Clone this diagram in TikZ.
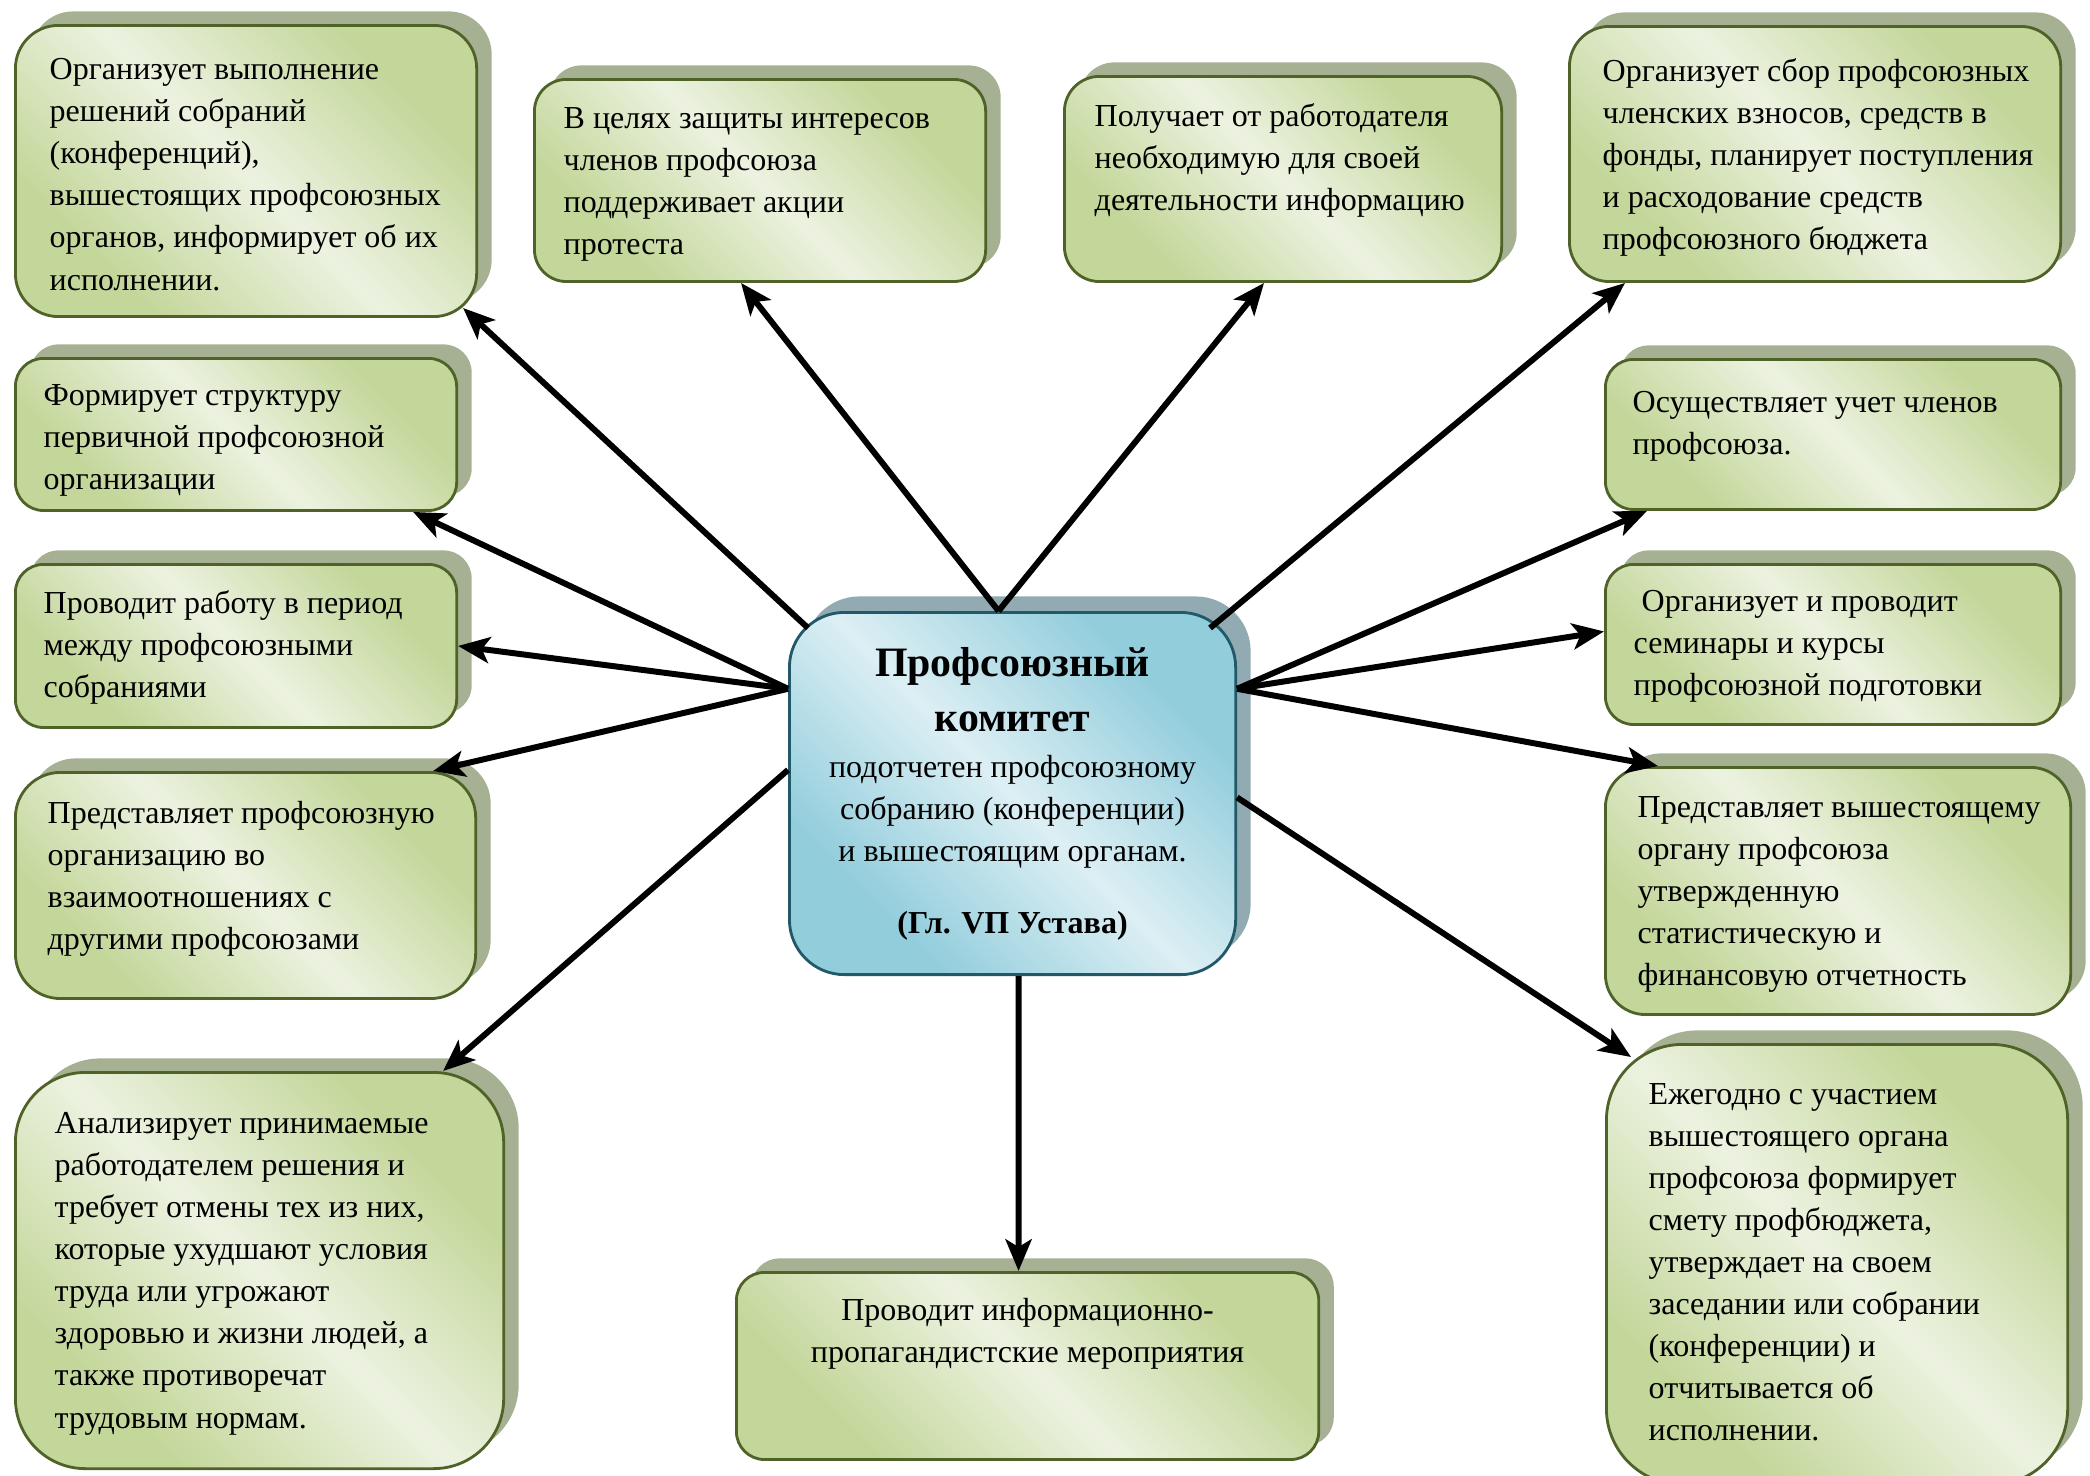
\documentclass[tikz,border=0pt]{standalone}
\usepackage{fontspec}
\setmainfont{Liberation Serif}
\usetikzlibrary{arrows.meta,shadows}
\definecolor{gdark}{RGB}{196,215,155}
\definecolor{glight}{RGB}{236,242,224}
\definecolor{gborder}{RGB}{79,98,40}
\definecolor{gshadow}{RGB}{166,176,146}
\definecolor{bdark}{RGB}{146,205,220}
\definecolor{blight}{RGB}{220,239,244}
\definecolor{bborder}{RGB}{33,89,104}
\definecolor{bshadow}{RGB}{146,170,178}
\pgfdeclarehorizontalshading{cardgreen}{100bp}{color(0bp)=(gdark); color(28bp)=(gdark); color(50bp)=(glight); color(72bp)=(gdark); color(100bp)=(gdark)}
\pgfdeclarehorizontalshading{cardblue}{100bp}{color(0bp)=(bdark); color(28bp)=(bdark); color(50bp)=(blight); color(72bp)=(bdark); color(100bp)=(bdark)}
\newcommand\cardfont{\fontsize{9.1}{11.95}\selectfont}
\newcommand\headfont{\fontsize{11.9}{15.6}\selectfont\bfseries}

\begin{document}
\begin{tikzpicture}[x=0.01cm,y=-0.01cm,>={Stealth[length=9pt,width=7.4pt,inset=2.2pt]}]
    \tikzstyle{box}=[line width=0.8pt,shading angle=45,anchor=north west,inner sep=0pt]
    \tikzstyle{card}=[box,draw=gborder,shading=cardgreen,
        drop shadow={shadow xshift=0.15cm,shadow yshift=0.14cm,fill=gshadow,opacity=1}]
    \tikzstyle{hub}=[box,draw=bborder,shading=cardblue,align=flush center,text width=4.3cm,
        drop shadow={shadow xshift=0.15cm,shadow yshift=0.16cm,fill=bshadow,opacity=1}]
    \tikzstyle{txt}=[anchor=north west,inner sep=0pt,align=left,font=\cardfont]
    \tikzstyle{link}=[->,line width=1.7pt]

    \useasboundingbox (0,0) rectangle (2090,1475);

    % boxes
    \node[card,minimum width=4.61cm,minimum height=2.91cm,rounded corners=0.43cm] (decisions) at (14,24) {};
    \node[card,minimum width=4.51cm,minimum height=2.02cm,rounded corners=0.32cm] (protest) at (533,78) {};
    \node[card,minimum width=4.37cm,minimum height=2.05cm,rounded corners=0.35cm] (info) at (1063,75) {};
    \node[card,minimum width=4.91cm,minimum height=2.55cm,rounded corners=0.4cm] (dues) at (1568,25) {};
    \node[card,minimum width=4.41cm,minimum height=1.52cm,rounded corners=0.28cm] (structure) at (14,357) {};
    \node[card,minimum width=4.41cm,minimum height=1.63cm,rounded corners=0.28cm] (interim) at (14,563) {};
    \node[card,minimum width=4.60cm,minimum height=2.26cm,rounded corners=0.45cm] (relations) at (14,771) {};
    \node[card,minimum width=4.88cm,minimum height=3.96cm,rounded corners=0.7cm] (analysis) at (14,1071) {};
    \node[card,minimum width=5.82cm,minimum height=1.87cm,rounded corners=0.28cm] (propaganda) at (735,1271) {};
    \node[card,minimum width=4.55cm,minimum height=1.50cm,rounded corners=0.28cm] (register) at (1604,358) {};
    \node[card,minimum width=4.55cm,minimum height=1.60cm,rounded corners=0.28cm] (seminars) at (1604,563) {};
    \node[card,minimum width=4.65cm,minimum height=2.47cm,rounded corners=0.4cm] (reporting) at (1604,766) {};
    \node[card,minimum width=4.61cm,minimum height=4.40cm,rounded corners=0.76cm] (budget) at (1605,1043) {};

    \node[hub,minimum width=4.46cm,minimum height=3.62cm,rounded corners=0.55cm] (committee) at (788,611) {%
        {\headfont Профсоюзный\\ комитет\par}
        \vspace{0.04cm}
        {\cardfont подотчетен профсоюзному\\ собранию (конференции)\\ и вышестоящим органам.\par}
        \vspace{0.3cm}
        {\cardfont\bfseries (Гл. VП Устава)\par}};

    % texts
    \node[txt] (decisionsT) at ([shift={(35,34)}]decisions.north west)
        {Организует выполнение\\ решений собраний\\ (конференций),\\ вышестоящих профсоюзных\\ органов, информирует об их\\ исполнении.};
    \node[txt] (protestT) at ([shift={(30,29)}]protest.north west)
        {В целях защиты интересов\\ членов профсоюза\\ поддерживает акции\\ протеста};
    \node[txt] (infoT) at ([shift={(31,28)}]info.north west)
        {Получает от работодателя\\ необходимую для своей\\ деятельности информацию};
    \node[txt] (duesT) at ([shift={(34,33)}]dues.north west)
        {Организует сбор профсоюзных\\ членских взносов, средств в\\ фонды, планирует поступления\\ и расходование средств\\ профсоюзного бюджета};
    \node[txt] (structureT) at ([shift={(29,27)}]structure.north west)
        {Формирует структуру\\ первичной профсоюзной\\ организации};
    \node[txt] (interimT) at ([shift={(29,27)}]interim.north west)
        {Проводит работу в период\\ между профсоюзными\\ собраниями};
    \node[txt] (relationsT) at ([shift={(33,30)}]relations.north west)
        {Представляет профсоюзную\\ организацию во\\ взаимоотношениях с\\ другими профсоюзами};
    \node[txt] (analysisT) at ([shift={(40,41)}]analysis.north west)
        {Анализирует принимаемые\\ работодателем решения и\\ требует отмены тех из них,\\ которые ухудшают условия\\ труда или угрожают\\ здоровью и жизни людей, а\\ также противоречат\\ трудовым нормам.};
    \node[txt,anchor=north,align=center] (propagandaT) at ([shift={(0,27)}]propaganda.north)
        {Проводит информационно-\\ пропагандистские мероприятия};
    \node[txt] (registerT) at ([shift={(28,33)}]register.north west)
        {Осуществляет учет членов\\ профсоюза.};
    \node[txt] (seminarsT) at ([shift={(29,27)}]seminars.north west)
        {\ Организует и проводит\\ семинары и курсы\\ профсоюзной подготовки};
    \node[txt] (reportingT) at ([shift={(33,30)}]reporting.north west)
        {Представляет вышестоящему\\ органу профсоюза\\ утвержденную\\ статистическую и\\ финансовую отчетность};
    \node[txt] (budgetT) at ([shift={(43,40)}]budget.north west)
        {Ежегодно с участием\\ вышестоящего органа\\ профсоюза формирует\\ смету профбюджета,\\ утверждает на своем\\ заседании или собрании\\ (конференции) и\\ отчитывается об\\ исполнении.};

    % arrows
    \draw[link] ([shift={(20,17)}]committee.north west) -- ([shift={(-15,-10)}]decisions.south east);
    \draw[link] ([shift={(-14,0)}]committee.north) -- ([shift={(-19,0)}]protest.south);
    \draw[link] ([shift={(-14,0)}]committee.north) -- ([shift={(-19,0)}]info.south);
    \draw[link] ([shift={(-27,17)}]committee.north east) -- ([shift={(57,0)}]dues.south west);
    \draw[link] (committee.155) -- ([shift={(-45,0)}]structure.south east);
    \draw[link] (committee.155) -- (interim.east);
    \draw[link] (committee.155) -- ([shift={(-44,0)}]relations.north east);
    \draw[link] (committee.174) -- ([shift={(-62,0)}]analysis.north east);
    \draw[link] ([shift={(6,0)}]committee.south) -- ([shift={(-9,0)}]propaganda.north);
    \draw[link] (committee.25) -- ([shift={(43,0)}]register.south west);
    \draw[link] (committee.25) -- ([shift={(0,-13)}]seminars.west);
    \draw[link] (committee.25) -- ([shift={(54,0)}]reporting.north west);
    \draw[link] (committee.359) -- ([shift={(26,14)}]budget.north west);
\end{tikzpicture}
\end{document}
